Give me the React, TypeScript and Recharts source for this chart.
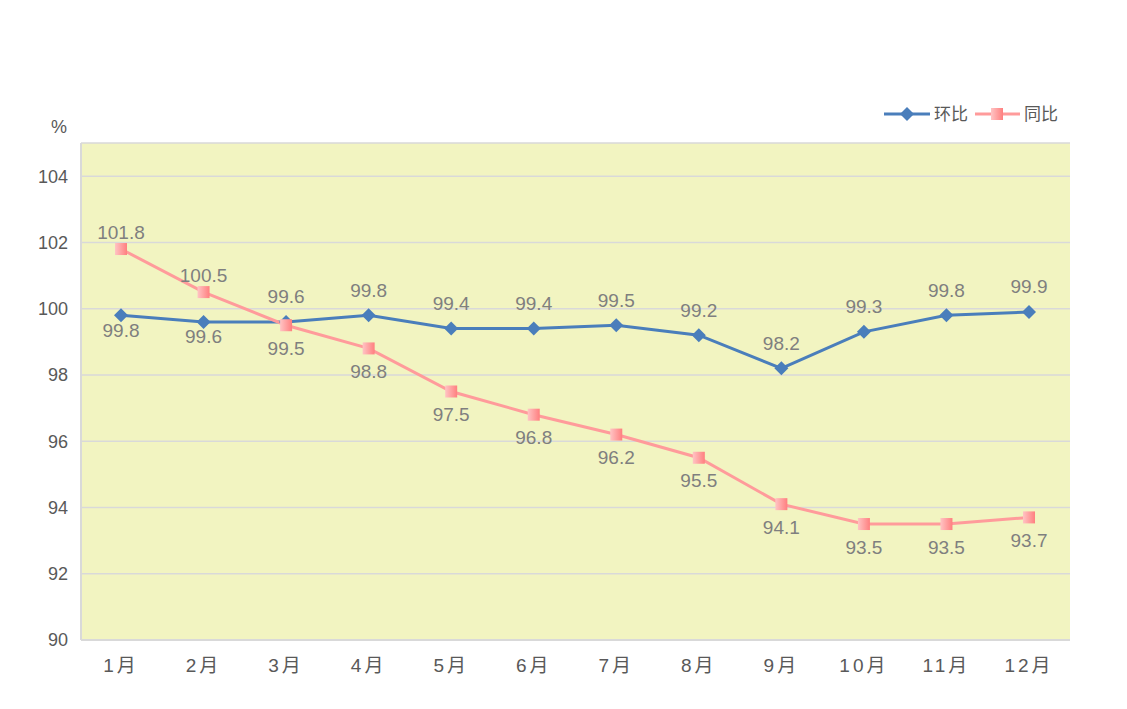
import React from "react";
import { LineChart, Line, XAxis, YAxis, CartesianGrid } from "recharts";

const months = ["1月", "2月", "3月", "4月", "5月", "6月", "7月", "8月", "9月", "10月", "11月", "12月"];
const huanbi = [99.8, 99.6, 99.6, 99.8, 99.4, 99.4, 99.5, 99.2, 98.2, 99.3, 99.8, 99.9];
const tongbi = [101.8, 100.5, 99.5, 98.8, 97.5, 96.8, 96.2, 95.5, 94.1, 93.5, 93.5, 93.7];
const huanbiLabelSide = ["below", "below", "above", "above", "above", "above", "above", "above", "above", "above", "above", "above"];
const tongbiLabelSide = ["above", "above", "below", "below", "below", "below", "below", "below", "below", "below", "below", "below"];
const yTicks = [90, 92, 94, 96, 98, 100, 102, 104];

const data = months.map((m, i) => ({ month: m, huanbi: huanbi[i], tongbi: tongbi[i] }));

const BLUE = "#4a7ebb";
const PINK = "#ff9b9b";
const FONT = "'Liberation Sans', 'Noto Sans CJK SC', sans-serif";

const Diamond = (props: any) => {
  const { cx, cy } = props;
  if (cx == null || cy == null) return null;
  return <path d={`M${cx},${cy - 7} L${cx + 7},${cy} L${cx},${cy + 7} L${cx - 7},${cy} Z`} fill={BLUE} />;
};

const Square = (props: any) => {
  const { cx, cy } = props;
  if (cx == null || cy == null) return null;
  return <rect x={cx - 6} y={cy - 6} width={12} height={12} fill="url(#pinkGrad)" />;
};

// label distance from point centre differs a bit per series in the original
const makeLabel = (sides: string[], up: number, down: number) => (props: any) => {
  const { x, y, value, index } = props;
  const dy = sides[index] === "above" ? -up : down;
  return (
    <text x={x} y={y + dy} textAnchor="middle" dominantBaseline="central" fill="#7f7f7f" fontSize={19} fontFamily={FONT}>
      {Number(value).toFixed(1)}
    </text>
  );
};

const MonthTick = (props: any) => {
  const { x, y, payload } = props;
  return (
    <text x={x} y={y} textAnchor="middle" dominantBaseline="central" fill="#595959" fontSize={19} fontFamily={FONT} letterSpacing={3}>
      {payload.value}
    </text>
  );
};

const LegendBox = () => (
  <svg width={200} height={26} style={{ position: "absolute", left: 880, top: 101, fontFamily: FONT }}>
    <defs>
      <linearGradient id="pinkGradLegend" x1="0" y1="0" x2="1" y2="0">
        <stop offset="0%" stopColor="#ffc4c4" />
        <stop offset="100%" stopColor="#ff7f7f" />
      </linearGradient>
    </defs>
    <line x1={4} y1={13} x2={50} y2={13} stroke={BLUE} strokeWidth={3} />
    <path d="M27,6 L34,13 L27,20 L20,13 Z" fill={BLUE} />
    <text x={54} y={13} dominantBaseline="central" fontSize={17} fill="#595959">环比</text>
    <line x1={95} y1={13} x2={140} y2={13} stroke={PINK} strokeWidth={3} />
    <rect x={111} y={7} width={12} height={12} fill="url(#pinkGradLegend)" />
    <text x={144} y={13} dominantBaseline="central" fontSize={17} fill="#595959">同比</text>
  </svg>
);

export default function App() {
  return (
    <div style={{ position: "absolute", left: 0, top: 0, width: 1127, height: 709, background: "#fff", fontFamily: FONT }}>
      <div style={{ position: "absolute", left: 51, top: 117, fontSize: 18, color: "#595959" }}>%</div>
      <LegendBox />
      <LineChart width={1127} height={709} data={data} margin={{ top: 143, right: 57, left: 30, bottom: 0 }}>
        <defs>
          <linearGradient id="pinkGrad" x1="0" y1="0" x2="1" y2="0">
            <stop offset="0%" stopColor="#ffc4c4" />
            <stop offset="100%" stopColor="#ff7f7f" />
          </linearGradient>
        </defs>
        <CartesianGrid vertical={false} stroke="#d9d9d9" strokeWidth={1.5} fill="#f2f4c1" />
        <XAxis
          dataKey="month"
          height={69}
          padding={{ left: 40, right: 41 }}
          tickLine={false}
          tickSize={0}
          tickMargin={25}
          axisLine={{ stroke: "#d9d9d9", strokeWidth: 2 }}
          tick={<MonthTick />}
        />
        <YAxis
          domain={[90, 105]}
          ticks={yTicks}
          width={51}
          tickLine={false}
          tickSize={0}
          tickMargin={13}
          axisLine={{ stroke: "#d9d9d9", strokeWidth: 2 }}
          tick={{ fill: "#595959", fontSize: 18, fontFamily: FONT }}
        />
        <Line
          type="linear"
          dataKey="huanbi"
          name="环比"
          stroke={BLUE}
          strokeWidth={3}
          dot={<Diamond />}
          activeDot={false}
          label={makeLabel(huanbiLabelSide, 25, 15)}
          isAnimationActive={false}
        />
        <Line
          type="linear"
          dataKey="tongbi"
          name="同比"
          stroke={PINK}
          strokeWidth={3}
          dot={<Square />}
          activeDot={false}
          label={makeLabel(tongbiLabelSide, 17, 23)}
          isAnimationActive={false}
        />
      </LineChart>
    </div>
  );
}
